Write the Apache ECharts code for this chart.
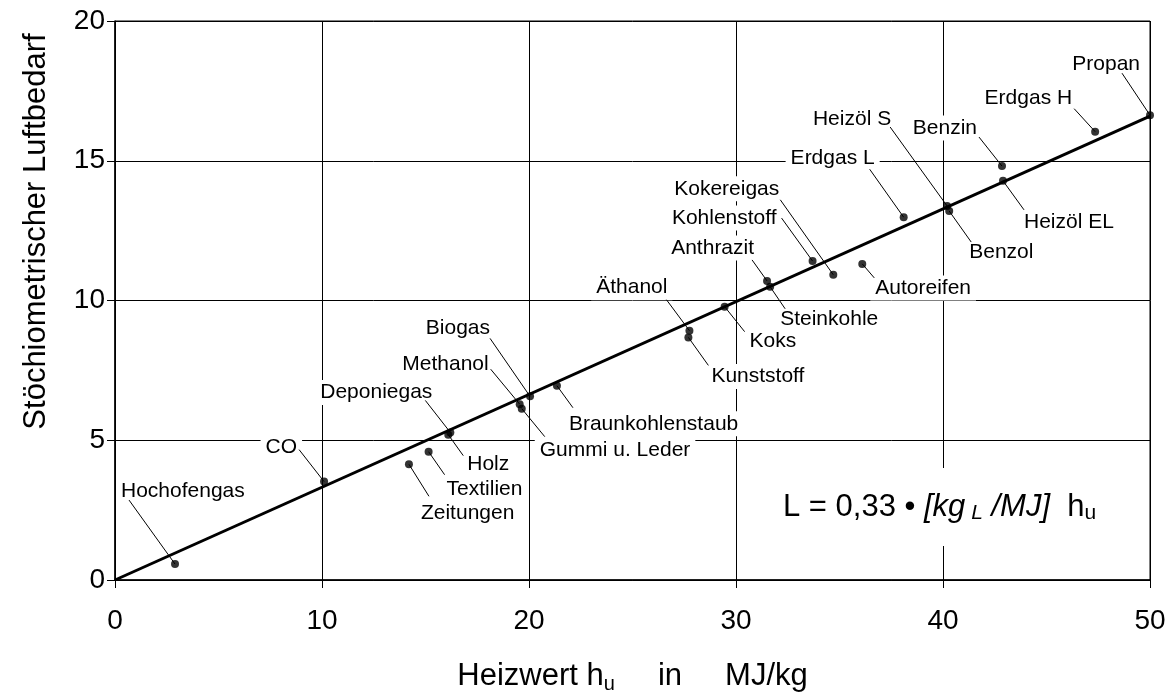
<!DOCTYPE html>
<html>
<head>
<meta charset="utf-8">
<script src="https://cdn.jsdelivr.net/npm/echarts@6/dist/echarts.min.js"></script>
<style>
  html, body { margin: 0; padding: 0; background: #fff; }
  #chart { width: 1175px; height: 693px; }
</style>
</head>
<body>
<div id="chart"></div>
<script>
// Brennstoffe: Heizwert hu [MJ/kg] und stöchiometrischer Luftbedarf
var fuels = ["Hochofengas", "CO", "Zeitungen", "Textilien", "Holz", "Deponiegas", "Methanol",
  "Gummi u. Leder", "Biogas", "Braunkohlenstaub", "Kunststoff", "Äthanol", "Koks", "Anthrazit",
  "Steinkohle", "Kohlenstoff", "Kokereigas", "Autoreifen", "Erdgas L", "Heizöl S", "Benzol",
  "Benzin", "Heizöl EL", "Erdgas H", "Propan"];
var heizwert = [2.9, 10.1, 14.2, 15.15, 16.1, 16.2, 19.55, 19.65, 20.05, 21.35, 27.7, 27.75, 29.45,
  31.5, 31.65, 33.7, 34.7, 36.1, 38.1, 40.2, 40.3, 42.85, 42.9, 47.35, 50.0];
var luftbedarf = [0.57, 3.52, 4.14, 4.59, 5.2, 5.28, 6.29, 6.13, 6.57, 6.95, 8.68, 8.92, 9.78,
  10.7, 10.49, 11.41, 10.92, 11.31, 12.98, 13.38, 13.2, 14.81, 14.28, 16.04, 16.63];
// Ausgleichsgerade L = 0,33 hu
var fitX = [0, 50];
var fitY = [0, 16.6];
var xTicks = [0, 10, 20, 30, 40, 50];
var yTicks = [0, 5, 10, 15, 20];

// Beschriftung: Textkante (tx), Textmitte (ty), Ausrichtung, Anfang der Hinweislinie (lx, ly) in px relativ zum Punkt
var labelPos = [
  [-54, -73, "left", -46, -64],   // Hochofengas
  [-27, -34, "right", -25, -32],  // CO
  [12, 49, "left", 20, 32],       // Zeitungen
  [18, 37, "left", 16, 23],       // Textilien
  [19, 30, "left", 15, 21],       // Holz
  [-18, -40, "right", -25, -32],  // Deponiegas
  [-31, -40, "right", -29, -35],  // Methanol
  [18, 42, "left", 23, 28],       // Gummi u. Leder
  [-40, -68, "right", -40, -58],  // Biogas
  [12, 38, "left", 16, 22],       // Braunkohlenstaub
  [23, 39, "left", 20, 28],       // Kunststoff
  [-22, -43, "right", -23, -31],  // Äthanol
  [25, 35, "left", 20, 25],       // Koks
  [-13, -33, "right", -15, -21],  // Anthrazit
  [10, 32, "left", 15, 22],       // Steinkohle
  [-36, -43, "right", -31, -43],  // Kohlenstoff
  [-54, -86, "right", -53, -75],  // Kokereigas
  [13, 24, "left", 12, 14],       // Autoreifen
  [-29, -59, "right", -34, -48],  // Erdgas L
  [-56, -87, "right", -57, -79],  // Heizöl S
  [20, 41, "left", 22, 31],       // Benzol
  [-25, -38, "right", -23, -29],  // Benzin
  [21, 41, "left", 21, 29],       // Heizöl EL
  [-23, -33, "right", -21, -23],  // Erdgas H
  [-10, -51, "right", -28, -42]   // Propan
];

var FONT = "'Liberation Sans', Arial, Helvetica, sans-serif";
var PAD = 5;

var points = heizwert.map(function (x, i) { return [x, luftbedarf[i]]; });
var fitLine = fitX.map(function (x, i) { return [x, fitY[i]]; });

var chart = echarts.init(document.getElementById("chart"));

var option = {
  backgroundColor: "#fff",
  animation: false,
  textStyle: { fontFamily: FONT, color: "#000" },
  grid: {
    left: 115, right: 25, top: 21, bottom: 113,
    outerBoundsMode: "none",
    show: true, borderColor: "#000", borderWidth: 1
  },
  xAxis: {
    type: "value",
    min: xTicks[0],
    max: xTicks[xTicks.length - 1],
    interval: xTicks[1] - xTicks[0],
    axisLine: { lineStyle: { color: "#000", width: 1.5 } },
    axisTick: { length: 8, lineStyle: { color: "#000" } },
    axisLabel: { color: "#000", fontSize: 28, fontFamily: FONT, margin: 27 },
    splitLine: { lineStyle: { color: "#000", width: 1 } },
    name: "{a|Heizwert h}{s|u}{a|     in     MJ/kg}",
    nameLocation: "middle",
    nameGap: 78,
    nameTextStyle: {
      rich: {
        a: { fontSize: 31, fontFamily: FONT, color: "#000", lineHeight: 36 },
        s: { fontSize: 20, fontFamily: FONT, color: "#000", lineHeight: 14, verticalAlign: "bottom" }
      }
    }
  },
  yAxis: {
    type: "value",
    min: yTicks[0],
    max: yTicks[yTicks.length - 1],
    interval: yTicks[1] - yTicks[0],
    axisLine: { lineStyle: { color: "#000", width: 1.5 } },
    axisTick: { show: true, length: 8, lineStyle: { color: "#000" } },
    axisLabel: { color: "#000", fontSize: 28, fontFamily: FONT, margin: 10 },
    splitLine: { lineStyle: { color: "#000", width: 1 } },
    name: "Stöchiometrischer Luftbedarf",
    nameLocation: "middle",
    nameGap: 63,
    nameTextStyle: { fontSize: 31, fontFamily: FONT, color: "#000", padding: [0, 0, 0, 138] }
  },
  graphic: [
    {
      // Geradengleichung
      type: "text",
      left: 773,
      top: 468,
      z: 10,
      style: {
        text: "{n|L = 0,33 • }{i|[kg}{is| L}{i| /MJ]}{n|  h}{s|u}",
        backgroundColor: "#fff",
        padding: [22, 10],
        rich: {
          n: { fontSize: 31, fontFamily: FONT, fill: "#000", lineHeight: 34 },
          i: { fontSize: 31, fontFamily: FONT, fontStyle: "italic", fill: "#000", lineHeight: 34 },
          is: { fontSize: 21, fontFamily: FONT, fontStyle: "italic", fill: "#000", lineHeight: 17, verticalAlign: "bottom" },
          s: { fontSize: 21, fontFamily: FONT, fill: "#000", lineHeight: 17, verticalAlign: "bottom" }
        }
      }
    }
  ],
  series: [
    {
      // Ausgleichsgerade
      type: "line",
      data: fitLine,
      symbol: "none",
      lineStyle: { color: "#000", width: 3 },
      z: 3
    },
    {
      // Beschriftungen mit Hinweislinien
      type: "custom",
      data: points,
      z: 2,
      renderItem: function (params, api) {
        var i = params.dataIndex;
        var p = api.coord([api.value(0), api.value(1)]);
        var L = labelPos[i];
        var tx = p[0] + L[0] + (L[2] === "left" ? -PAD : PAD);
        return {
          type: "group",
          children: [
            {
              type: "text",
              x: tx,
              y: p[1] + L[1],
              style: {
                text: fuels[i],
                fontSize: 21,
                fontFamily: FONT,
                fill: "#000",
                align: L[2],
                verticalAlign: "middle",
                backgroundColor: "#fff",
                padding: [2, PAD]
              }
            },
            {
              type: "line",
              shape: { x1: p[0] + L[3], y1: p[1] + L[4], x2: p[0], y2: p[1] },
              style: { stroke: "#000", lineWidth: 1 }
            }
          ]
        };
      }
    },
    {
      // Messpunkte
      type: "scatter",
      data: points,
      symbol: "circle",
      symbolSize: 8,
      itemStyle: { color: "#000" },
      z: 4
    }
  ]
};

chart.setOption(option);
</script>
</body>
</html>
